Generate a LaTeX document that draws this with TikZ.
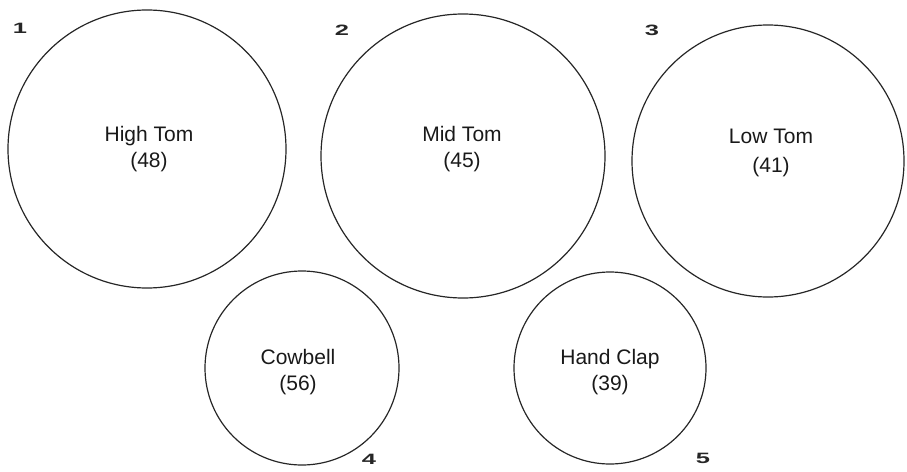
\documentclass[tikz,border=0pt]{standalone}
\usepackage{fontspec}
\setmainfont{Liberation Sans}
\begin{document}
\begin{tikzpicture}[x=1pt,y=-1pt,
  pad/.style={circle,draw=black!85,line width=1.2pt,inner sep=0pt,minimum size=#1},
  lbl/.style={font=\fontsize{21}{25}\selectfont,align=center,text=black!90},
  num/.style={font=\fontsize{15}{15}\selectfont\bfseries,text=black!85,xscale=1.7,inner sep=0pt}]
\useasboundingbox (0,0) rectangle (907,471);
\node[pad=278pt] (c1) at (147,149) {};
\node[pad=284pt] (c2) at (463,156) {};
\node[pad=272pt] (c3) at (768,161) {};
\node[pad=194pt] (c4) at (302,368) {};
\node[pad=192pt] (c5) at (610,368) {};
\node[lbl] (t1) at (149,149) {High Tom\\[1pt](48)};
\node[lbl] (t2) at (462,149) {Mid Tom\\[1pt](45)};
\node[lbl] (t3) at (771,153) {Low Tom\\[4pt](41)};
\node[lbl] (t4) at (298,372) {Cowbell\\[1pt](56)};
\node[lbl] (t5) at (610,372) {Hand Clap\\[1pt](39)};
\node[num] (n1) at (20,28) {1};
\node[num] (n2) at (342,30) {2};
\node[num] (n3) at (652,30) {3};
\node[num] (n4) at (369,459) {4};
\node[num] (n5) at (703,458) {5};
\end{tikzpicture}
\end{document}
